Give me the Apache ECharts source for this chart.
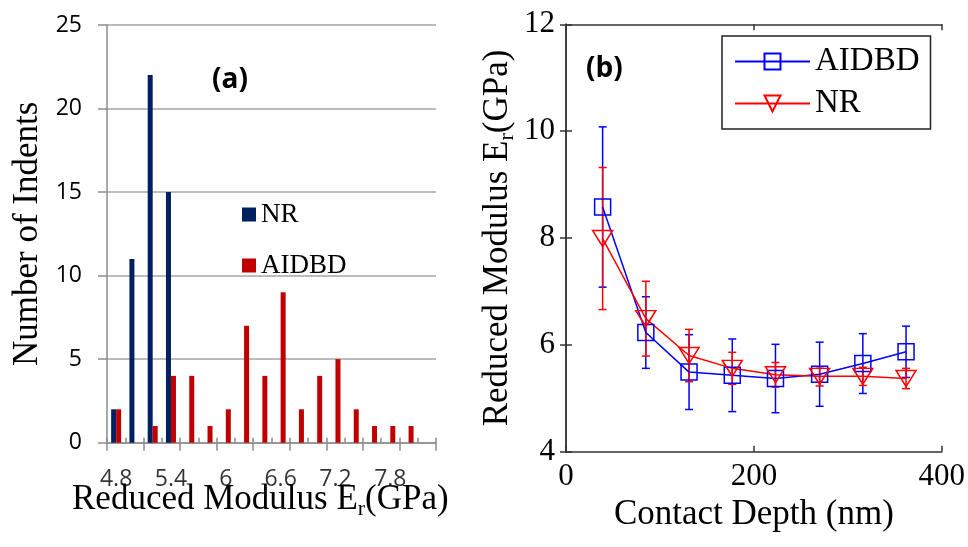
<!DOCTYPE html>
<html>
<head>
<meta charset="utf-8">
<script src="https://cdn.jsdelivr.net/npm/echarts@6/dist/echarts.min.js"></script>
<style>
html, body { margin: 0; padding: 0; background: #fff; }
#chart { width: 968px; height: 547px; }
</style>
</head>
<body>
<div id="chart"></div>
<script>
// (a) histogram: bins of reduced modulus (GPa) and counts
const modulusBins = ['4.8', '5', '5.2', '5.4', '5.6', '5.8', '6', '6.2', '6.4', '6.6',
                     '6.8', '7', '7.2', '7.4', '7.6', '7.8', '8', '8.2'];
const nrCounts    = [2, 11, 22, 15, 0, 0, 0, 0, 0, 0, 0, 0, 0, 0, 0, 0, 0, 0];
const aidbdCounts = [2, 0, 1, 4, 4, 1, 2, 7, 4, 9, 2, 4, 5, 2, 1, 1, 1, 0];
const binLabels   = ['4.8', '5.4', '6', '6.6', '7.2', '7.8'];
const countTicks  = [0, 5, 10, 15, 20, 25];

// (b) modulus vs contact depth, mean and error
const depthNm   = [39, 85, 131, 177, 223, 270, 316, 362];
const aidbdMean = [8.58, 6.23, 5.49, 5.43, 5.37, 5.45, 5.65, 5.87];
const aidbdErr  = [1.5, 0.67, 0.7, 0.68, 0.64, 0.6, 0.56, 0.48];
const nrMean    = [7.99, 6.49, 5.80, 5.56, 5.44, 5.41, 5.41, 5.37];
const nrErr     = [1.33, 0.7, 0.49, 0.3, 0.23, 0.18, 0.17, 0.19];
const depthTicks   = [0, 200, 400];
const modulusTicks = [4, 6, 8, 10, 12];

const SERIF = 'Liberation Serif';
const SANS = 'Open Sans';

// 误差棒
function errorBar(color) {
    return function (params, api) {
        const x = api.value(0);
        const lo = api.coord([x, api.value(1)]);
        const hi = api.coord([x, api.value(2)]);
        const cap = 4;
        const style = { stroke: color, lineWidth: 1.5 };
        return {
            type: 'group',
            children: [
                { type: 'line', shape: { x1: lo[0], y1: lo[1], x2: hi[0], y2: hi[1] }, style: style },
                { type: 'line', shape: { x1: lo[0] - cap, y1: lo[1], x2: lo[0] + cap, y2: lo[1] }, style: style },
                { type: 'line', shape: { x1: hi[0] - cap, y1: hi[1], x2: hi[0] + cap, y2: hi[1] }, style: style }
            ]
        };
    };
}

const errData = (mean, err) => depthNm.map((d, i) => [d, mean[i] - err[i], mean[i] + err[i]]);
const ptData = (mean) => depthNm.map((d, i) => [d, mean[i]]);

const subName = {
    n: { fontFamily: SERIF, fontSize: 35, fontWeight: 'normal', color: '#000', lineHeight: 40 },
    s: { fontFamily: SERIF, fontSize: 22, fontWeight: 'normal', color: '#000', lineHeight: 22, verticalAlign: 'bottom' }
};
const modulusName = '{n|Reduced Modulus E}{s|r}{n|(GPa)}';

const frameAxis = { show: true, lineStyle: { color: '#333', width: 1.5 } };
const frameTick = { show: true, inside: true, length: 6, lineStyle: { color: '#333', width: 1.5 } };

const chart = echarts.init(document.getElementById('chart'));
const option = {
    animation: false,
    backgroundColor: '#fff',
    title: [
        { text: '(a)', left: 212, top: 66, padding: 0,
          textStyle: { fontFamily: SANS, fontSize: 28, fontWeight: 'bold', color: '#000' } },
        { text: '(b)', left: 586, top: 55, padding: 0,
          textStyle: { fontFamily: SANS, fontSize: 28, fontWeight: 'bold', color: '#000' } },
        // x 轴标题 (a)
        { text: modulusName, left: 72, top: 480, padding: 0,
          textStyle: { fontWeight: 'normal', rich: subName } }
    ],
    legend: [
        {
            data: ['NR', 'AIDBD'],
            orient: 'vertical',
            left: 242, top: 201,
            padding: 0,
            itemGap: 24,
            icon: 'rect',
            itemWidth: 14, itemHeight: 14,
            textStyle: { fontFamily: SERIF, fontSize: 27, color: '#000' }
        },
        {
            data: ['AIDBD-b', 'NR-b'],
            formatter: name => name.replace('-b', ''),
            orient: 'vertical',
            left: 722, top: 36,
            padding: [9, 11, 9, 12],
            itemGap: 9,
            itemWidth: 75, itemHeight: 20,
            borderColor: '#222', borderWidth: 1.5,
            backgroundColor: '#fff',
            textStyle: { fontFamily: SERIF, fontSize: 33, color: '#000' }
        }
    ],
    grid: [
        { left: 107, top: 25, width: 329, height: 417.7 },
        { left: 566, top: 24.3, width: 376, height: 427.4 }
    ],
    xAxis: [
        {
            type: 'category', gridIndex: 0, position: 'bottom',
            data: modulusBins,
            axisLine: { show: true, lineStyle: { color: '#8c8c8c', width: 1.5 } },
            axisTick: { show: true, interval: 1, length: 8, lineStyle: { color: '#8c8c8c', width: 1.5 } },
            axisLabel: { show: false },
            splitLine: { show: false }
        },
        {
            // minor ticks pointing up from the bottom line
            type: 'category', gridIndex: 0, position: 'top', offset: -417.7,
            data: modulusBins,
            axisLine: { show: false },
            axisTick: { show: true, interval: 0, length: 5, lineStyle: { color: '#8c8c8c', width: 1.5 } },
            axisLabel: { show: false },
            splitLine: { show: false }
        },
        {
            type: 'value', gridIndex: 1, position: 'bottom',
            min: depthTicks[0], max: depthTicks[depthTicks.length - 1],
            interval: depthTicks[1] - depthTicks[0],
            axisLine: frameAxis, axisTick: frameTick,
            axisLabel: { margin: 10, fontFamily: SERIF, fontSize: 31, color: '#000' },
            splitLine: { show: false },
            name: 'Contact Depth (nm)',
            nameLocation: 'middle', nameGap: 44,
            nameTextStyle: { fontFamily: SERIF, fontSize: 35, color: '#000' }
        },
        {
            type: 'value', gridIndex: 1, position: 'top',
            min: depthTicks[0], max: depthTicks[depthTicks.length - 1],
            interval: depthTicks[1] - depthTicks[0],
            axisLine: frameAxis, axisTick: frameTick,
            axisLabel: { show: false }, splitLine: { show: false }
        }
    ],
    yAxis: [
        {
            type: 'value', gridIndex: 0,
            min: countTicks[0], max: countTicks[countTicks.length - 1],
            interval: countTicks[1] - countTicks[0],
            axisLine: { show: true, lineStyle: { color: '#8c8c8c', width: 1.5 } },
            axisTick: { show: true, length: 9, lineStyle: { color: '#8c8c8c', width: 1.5 } },
            axisLabel: { margin: 25, fontFamily: SANS, fontSize: 23, color: '#000' },
            splitLine: { show: true, lineStyle: { color: '#a6a6a6', width: 1.5 } },
            name: 'Number of Indents',
            nameLocation: 'middle', nameGap: 62,
            nameTextStyle: { fontFamily: SERIF, fontSize: 35, color: '#000' }
        },
        {
            type: 'value', gridIndex: 1, position: 'left',
            min: modulusTicks[0], max: modulusTicks[modulusTicks.length - 1],
            interval: modulusTicks[1] - modulusTicks[0],
            axisLine: frameAxis, axisTick: frameTick,
            axisLabel: { margin: 11, fontFamily: SERIF, fontSize: 31, color: '#000' },
            splitLine: { show: false },
            name: modulusName,
            nameLocation: 'middle', nameGap: 48,
            nameTextStyle: { rich: subName }
        },
        {
            type: 'value', gridIndex: 1, position: 'right',
            min: modulusTicks[0], max: modulusTicks[modulusTicks.length - 1],
            interval: modulusTicks[1] - modulusTicks[0],
            axisLine: frameAxis, axisTick: frameTick,
            axisLabel: { show: false }, splitLine: { show: false }
        }
    ],
    series: [
        {
            name: 'NR', type: 'bar', xAxisIndex: 0, yAxisIndex: 0,
            data: nrCounts, barWidth: 5, barGap: '0%',
            itemStyle: { color: '#002060' }
        },
        {
            name: 'AIDBD', type: 'bar', xAxisIndex: 0, yAxisIndex: 0,
            data: aidbdCounts, barWidth: 5, barGap: '0%',
            itemStyle: { color: '#c00000' }
        },
        {
            // (a) 横轴刻度文字, 放在类目位置下方
            name: 'bin-labels', type: 'scatter', xAxisIndex: 0, yAxisIndex: 0,
            data: binLabels.map(b => [b, 0]),
            symbolSize: 1,
            itemStyle: { color: 'rgba(0,0,0,0)' },
            silent: true,
            label: {
                show: true, position: 'bottom', distance: 25,
                formatter: p => p.value[0],
                fontFamily: SANS, fontSize: 23, color: '#000'
            }
        },
        {
            name: 'AIDBD-err', type: 'custom', xAxisIndex: 2, yAxisIndex: 1,
            renderItem: errorBar('#0000ff'),
            encode: { x: 0, y: [1, 2] },
            data: errData(aidbdMean, aidbdErr)
        },
        {
            name: 'AIDBD-b', type: 'line', xAxisIndex: 2, yAxisIndex: 1,
            data: ptData(aidbdMean),
            symbol: 'rect', symbolSize: 16,
            itemStyle: { color: 'rgba(0,0,0,0)', borderColor: '#0000ff', borderWidth: 1.5 },
            lineStyle: { color: '#0000ff', width: 1.5 }
        },
        {
            name: 'NR-err', type: 'custom', xAxisIndex: 2, yAxisIndex: 1,
            renderItem: errorBar('#ff0000'),
            encode: { x: 0, y: [1, 2] },
            data: errData(nrMean, nrErr)
        },
        {
            name: 'NR-b', type: 'line', xAxisIndex: 2, yAxisIndex: 1,
            data: ptData(nrMean),
            symbol: 'triangle', symbolRotate: 180, symbolSize: [20, 16],
            itemStyle: { color: 'rgba(0,0,0,0)', borderColor: '#ff0000', borderWidth: 1.5 },
            lineStyle: { color: '#ff0000', width: 1.5 }
        }
    ]
};
chart.setOption(option);
</script>
</body>
</html>
